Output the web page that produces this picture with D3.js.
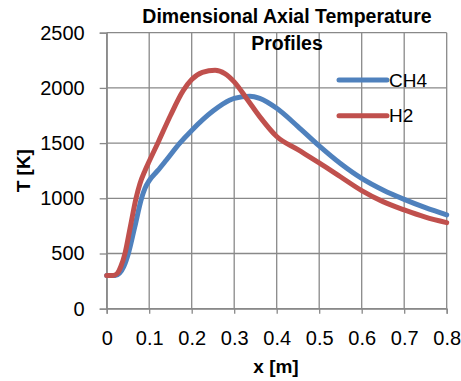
<!DOCTYPE html>
<html>
<head>
<meta charset="utf-8">
<script src="https://cdn.jsdelivr.net/npm/d3@7"></script>
<style>
  body { margin: 0; background: #fff; }
  text { font-family: "Liberation Sans", Arial, sans-serif; }
</style>
</head>
<body>
<div id="chart"></div>
<script>
// values
const ch4X = [0, 0.02, 0.03, 0.04, 0.051, 0.066, 0.082, 0.09, 0.1, 0.12, 0.14, 0.172, 0.2, 0.25, 0.29, 0.3, 0.337, 0.36, 0.4, 0.45, 0.5, 0.55, 0.6, 0.65, 0.7, 0.75, 0.8];
const ch4T = [300, 300, 320, 380, 500, 740, 1000, 1090, 1160, 1250, 1345, 1500, 1615, 1790, 1890, 1905, 1925, 1905, 1815, 1650, 1475, 1315, 1180, 1075, 990, 915, 850];

const h2X = [0, 0.015, 0.025, 0.033, 0.043, 0.056, 0.069, 0.078, 0.09, 0.1, 0.122, 0.15, 0.18, 0.2, 0.225, 0.255, 0.278, 0.3, 0.33, 0.36, 0.4, 0.45, 0.5, 0.55, 0.6, 0.65, 0.7, 0.75, 0.8];
const h2T = [300, 300, 320, 380, 500, 750, 1000, 1130, 1250, 1335, 1515, 1750, 1975, 2075, 2140, 2160, 2130, 2055, 1900, 1740, 1560, 1440, 1320, 1195, 1070, 970, 895, 830, 780];

const xTicks = [0, 0.1, 0.2, 0.3, 0.4, 0.5, 0.6, 0.7, 0.8];
const yTicks = [0, 500, 1000, 1500, 2000, 2500];

const seriesNames = ["CH4", "H2"];
const seriesColors = ["#4f81bd", "#c0504d"];

const W = 461, H = 381;
const margin = { top: 32.7, right: 14.3, bottom: 72.3, left: 106.7 };
const width = W - margin.left - margin.right,
      height = H - margin.top - margin.bottom;

const svg = d3.select("#chart")
  .append("svg")
  .attr("width", W)
  .attr("height", H);

const g = svg.append("g")
  .attr("transform", "translate(" + margin.left + "," + margin.top + ")");

const x = d3.scaleLinear().domain([0, 0.8]).range([0, width]);
const y = d3.scaleLinear().domain([0, 2500]).range([height, 0]);

const gridColor = "#898989";

// grid
g.selectAll(".vgrid")
  .data(xTicks)
  .enter()
  .append("line")
  .attr("x1", d => x(d)).attr("x2", d => x(d))
  .attr("y1", 0).attr("y2", height)
  .attr("stroke", gridColor).attr("stroke-width", 1.3);

g.selectAll(".hgrid")
  .data(yTicks)
  .enter()
  .append("line")
  .attr("x1", 0).attr("x2", width)
  .attr("y1", d => y(d)).attr("y2", d => y(d))
  .attr("stroke", gridColor).attr("stroke-width", 1.3);

// axes
const yAxis = g.append("g")
  .call(d3.axisLeft(y).tickValues(yTicks).tickSize(7).tickPadding(15).tickFormat(d3.format("d")));

const xAxis = g.append("g")
  .attr("transform", "translate(0," + height + ")")
  .call(d3.axisBottom(x).tickValues(xTicks).tickSize(5).tickPadding(17).tickFormat(d => d === 0 ? "0" : d3.format(".1f")(d)));

[yAxis, xAxis].forEach(a => {
  a.select(".domain").attr("stroke", gridColor).attr("stroke-width", 1.3);
  a.selectAll(".tick line").attr("stroke", gridColor).attr("stroke-width", 1.3);
  a.selectAll(".tick text")
    .attr("font-family", "'Liberation Sans', Arial, sans-serif")
    .attr("font-size", 20)
    .attr("fill", "#000");
});

// lines
const line = d3.line()
  .x(d => x(d[0]))
  .y(d => y(d[1]))
  .curve(d3.curveMonotoneX);

const series = [
  d3.zip(ch4X, ch4T),
  d3.zip(h2X, h2T)
];

g.selectAll(".series")
  .data(series)
  .enter()
  .append("path")
  .attr("d", line)
  .attr("fill", "none")
  .attr("stroke", (d, i) => seriesColors[i])
  .attr("stroke-width", 5)
  .attr("stroke-linejoin", "round")
  .attr("stroke-linecap", "round");

// legend
const legend = svg.append("g");
const legY = [80, 115.7];
seriesNames.forEach((name, i) => {
  legend.append("line")
    .attr("x1", 339).attr("x2", 387)
    .attr("y1", legY[i]).attr("y2", legY[i])
    .attr("stroke", seriesColors[i])
    .attr("stroke-width", 5)
    .attr("stroke-linecap", "round");
  legend.append("text")
    .attr("x", 389)
    .attr("y", legY[i] + 6.7)
    .attr("font-size", 19)
    .text(name);
});

// title
svg.append("text")
  .attr("x", 287).attr("y", 22.7)
  .attr("text-anchor", "middle")
  .attr("font-size", 19.5).attr("font-weight", "bold")
  .text("Dimensional Axial Temperature");
svg.append("text")
  .attr("x", 287).attr("y", 50)
  .attr("text-anchor", "middle")
  .attr("font-size", 19.5).attr("font-weight", "bold")
  .text("Profiles");

// axis titles
svg.append("text")
  .attr("x", 276).attr("y", 372.7)
  .attr("text-anchor", "middle")
  .attr("font-size", 19).attr("font-weight", "bold")
  .text("x [m]");

svg.append("text")
  .attr("transform", "translate(30," + (margin.top + height / 2) + ") rotate(-90)")
  .attr("text-anchor", "middle")
  .attr("font-size", 19).attr("font-weight", "bold")
  .text("T [K]");
</script>
</body>
</html>
